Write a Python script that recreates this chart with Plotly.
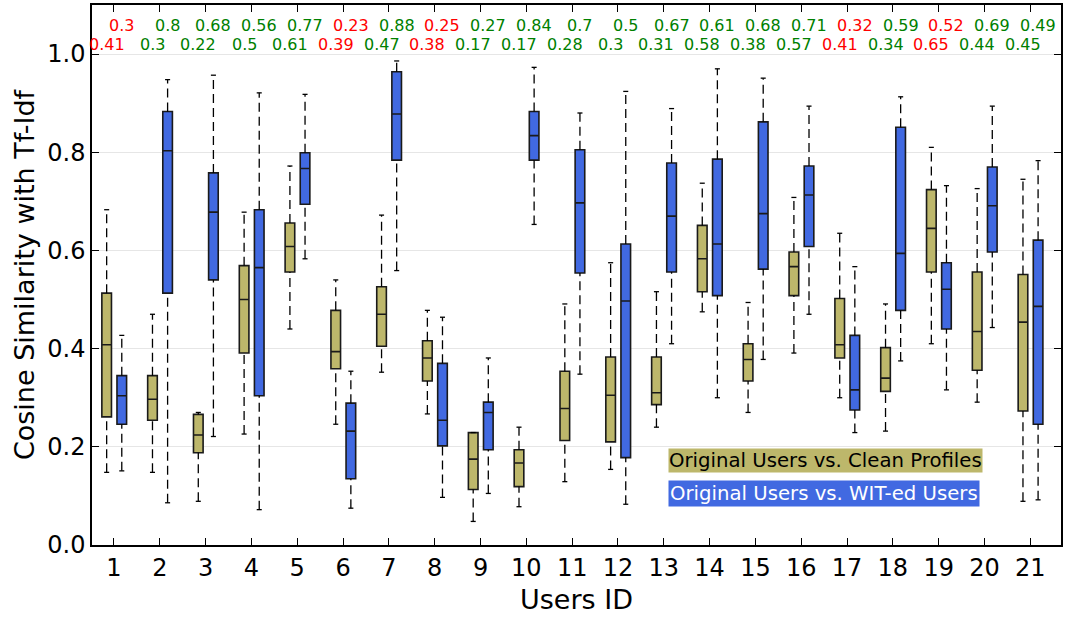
import plotly.graph_objects as go

# ---------------- data ----------------
users = list(range(1, 22))

# Original Users vs. Clean Profiles (olive)
clean_low = [0.148, 0.148, 0.089, 0.226, 0.440, 0.246, 0.352, 0.267, 0.048, 0.078, 0.129,
             0.154, 0.240, 0.475, 0.270, 0.391, 0.300, 0.232, 0.410, 0.291, 0.089]
clean_q1 = [0.261, 0.254, 0.188, 0.391, 0.556, 0.359, 0.405, 0.334, 0.113, 0.119, 0.213,
            0.210, 0.286, 0.516, 0.334, 0.508, 0.381, 0.313, 0.556, 0.356, 0.273]
clean_med = [0.408, 0.297, 0.224, 0.500, 0.608, 0.394, 0.470, 0.381, 0.175, 0.167, 0.278,
             0.305, 0.310, 0.583, 0.378, 0.567, 0.408, 0.340, 0.645, 0.435, 0.454]
clean_q3 = [0.513, 0.345, 0.266, 0.569, 0.656, 0.478, 0.526, 0.416, 0.229, 0.194, 0.354,
            0.383, 0.383, 0.651, 0.410, 0.597, 0.502, 0.402, 0.724, 0.556, 0.551]
clean_high = [0.683, 0.470, 0.270, 0.678, 0.772, 0.540, 0.672, 0.478, 0.229, 0.240, 0.491,
              0.575, 0.516, 0.737, 0.494, 0.708, 0.635, 0.491, 0.810, 0.726, 0.745]

# Original Users vs. WIT-ed Users (blue)
wit_low = [0.151, 0.086, 0.221, 0.072, 0.583, 0.075, 0.559, 0.097, 0.105, 0.653, 0.348,
           0.083, 0.410, 0.300, 0.378, 0.470, 0.229, 0.375, 0.316, 0.443, 0.092]
wit_q1 = [0.246, 0.513, 0.540, 0.304, 0.694, 0.135, 0.784, 0.202, 0.194, 0.784, 0.554,
          0.178, 0.556, 0.508, 0.562, 0.608, 0.275, 0.478, 0.440, 0.597, 0.246]
wit_med = [0.304, 0.803, 0.678, 0.565, 0.767, 0.232, 0.878, 0.254, 0.270, 0.834, 0.697,
           0.497, 0.670, 0.613, 0.675, 0.713, 0.316, 0.594, 0.521, 0.691, 0.486]
wit_q3 = [0.345, 0.883, 0.758, 0.683, 0.799, 0.289, 0.964, 0.370, 0.291, 0.883, 0.805,
          0.613, 0.778, 0.786, 0.862, 0.772, 0.427, 0.851, 0.575, 0.770, 0.621]
wit_high = [0.427, 0.948, 0.957, 0.921, 0.918, 0.354, 0.986, 0.464, 0.381, 0.973, 0.880,
            0.924, 0.889, 0.970, 0.951, 0.894, 0.567, 0.913, 0.732, 0.894, 0.783]

# Median labels printed above the plot
wit_labels = ["0.3", "0.8", "0.68", "0.56", "0.77", "0.23", "0.88", "0.25", "0.27", "0.84", "0.7",
              "0.5", "0.67", "0.61", "0.68", "0.71", "0.32", "0.59", "0.52", "0.69", "0.49"]
clean_labels = ["0.41", "0.3", "0.22", "0.5", "0.61", "0.39", "0.47", "0.38", "0.17", "0.17", "0.28",
                "0.3", "0.31", "0.58", "0.38", "0.57", "0.41", "0.34", "0.65", "0.44", "0.45"]

series_names = ["Original Users vs. Clean Profiles", "Original Users vs. WIT-ed Users"]
y_ticks = [0.0, 0.2, 0.4, 0.6, 0.8, 1.0]

# ---------------- style ----------------
FONT = "DejaVu Sans"
OLIVE = "#BDB76B"
BLUE = "#4169E1"
OFF_CLEAN, OFF_WIT = -0.16, 0.17
BOX_W = 0.21
CAP = 0.055

fig = go.Figure()


def add_series(off, low, q1, med, q3, high, color):
    xs = [u + off for u in users]
    # dashed whiskers
    wx, wy = [], []
    for x, lo, a, b, hi in zip(xs, low, q1, q3, high):
        wx += [x, x, None, x, x, None]
        wy += [b, hi, None, lo, a, None]
    fig.add_trace(go.Scatter(x=wx, y=wy, mode="lines", hoverinfo="skip", showlegend=False,
                             line=dict(color="black", width=1.3, dash="9px,5px")))
    # caps
    cx, cy = [], []
    for x, lo, hi in zip(xs, low, high):
        cx += [x - CAP, x + CAP, None, x - CAP, x + CAP, None]
        cy += [hi, hi, None, lo, lo, None]
    fig.add_trace(go.Scatter(x=cx, y=cy, mode="lines", hoverinfo="skip", showlegend=False,
                             line=dict(color="black", width=1.3)))
    # boxes
    fig.add_trace(go.Box(x=xs, q1=q1, median=med, q3=q3, lowerfence=q1, upperfence=q3,
                         width=BOX_W, fillcolor=color, line=dict(color="#1a1a1a", width=1.6),
                         whiskerwidth=0, showlegend=False, hoverinfo="skip"))


add_series(OFF_CLEAN, clean_low, clean_q1, clean_med, clean_q3, clean_high, OLIVE)
add_series(OFF_WIT, wit_low, wit_q1, wit_med, wit_q3, wit_high, BLUE)

# median labels
for u, wl, cl in zip(users, wit_labels, clean_labels):
    col = "#FF0000" if float(cl) > float(wl) else "#008000"
    fig.add_annotation(x=u + OFF_WIT, y=1.058, text=wl, showarrow=False,
                       font=dict(family=FONT, size=16, color=col))
    fig.add_annotation(x=u + OFF_CLEAN, y=1.019, text=cl, showarrow=False,
                       font=dict(family=FONT, size=16, color=col))

# legend as coloured text boxes
fig.add_annotation(xref="paper", yref="paper", x=0.594, y=0.156, xanchor="left", yanchor="middle",
                   text=series_names[0], showarrow=False, bgcolor=OLIVE, borderpad=0,
                   font=dict(family=FONT, size=19.7, color="black"))
fig.add_annotation(xref="paper", yref="paper", x=0.594, y=0.095, xanchor="left", yanchor="middle",
                   text=series_names[1], showarrow=False, bgcolor=BLUE, borderpad=1,
                   font=dict(family=FONT, size=19.7, color="white"))

fig.update_layout(
    width=1065, height=620,
    margin=dict(l=92, r=2, t=5, b=75),
    paper_bgcolor="white", plot_bgcolor="white",
    boxmode="overlay",
    font=dict(family=FONT, color="black"),
    xaxis=dict(range=[0.52, 21.67], tickvals=users, ticktext=[str(u) for u in users],
               ticks="inside", ticklen=7, tickcolor="black", tickwidth=1,
               showline=True, linecolor="black", linewidth=1.5, mirror="allticks",
               showgrid=False, zeroline=False, tickfont=dict(size=24),
               ticklabelstandoff=0,
               title=dict(text="Users ID", font=dict(size=27), standoff=10)),
    yaxis=dict(range=[0, 1.1], tickvals=y_ticks, ticktext=[f"{v:.1f}" for v in y_ticks],
               ticks="inside", ticklen=7, tickcolor="black", tickwidth=1,
               showline=True, linecolor="black", linewidth=1.5, mirror="allticks",
               showgrid=True, gridcolor="#e6e6e6", gridwidth=1, zeroline=False,
               tickfont=dict(size=24), ticklabelstandoff=0,
               title=dict(text="Cosine Similarity with Tf-Idf", font=dict(size=27), standoff=5)),
)

fig.write_html("out.html", config={"displayModeBar": False},
               post_script="document.body.style.margin='0';")
